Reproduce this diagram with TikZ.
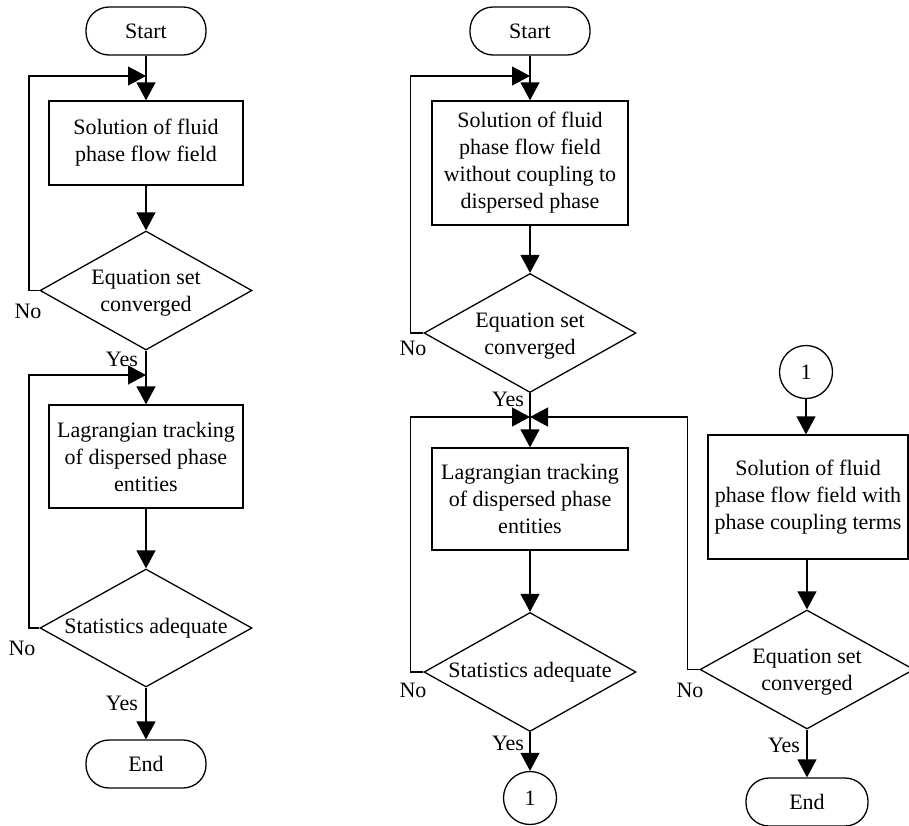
\documentclass[tikz,border=0pt]{standalone}
\usepackage{fontspec}
\setmainfont{Liberation Serif}
\usetikzlibrary{shapes.geometric,arrows.meta}
\begin{document}
\begin{tikzpicture}[x=1pt,y=-1pt,
  every node/.style={font=\fontsize{22}{27}\selectfont, line width=1.3pt},
  term/.style={draw, rectangle, rounded corners=23pt, minimum width=120pt, minimum height=48pt, inner sep=0pt},
  proc/.style={draw, rectangle, align=center, inner sep=0pt},
  dec/.style={draw, diamond, aspect=1.8, inner sep=0pt, minimum width=212pt, minimum height=119pt},
  dtext/.style={align=center, inner sep=0pt},
  conn/.style={draw, circle, minimum size=53pt, inner sep=0pt},
  lbl/.style={inner sep=0pt},
  arr/.style={line width=1.3pt, -{Triangle[length=18pt,width=19pt]}}]
\useasboundingbox (0,0) rectangle (909,825);

% ---- left flow ----
\node[term] (s1) at (146,31) {Start};
\node[proc, minimum width=194pt, minimum height=84pt] (b1) at (146,143) {Solution of fluid\\phase flow field};
\node[dec] (d1) at (146,290.5) {};
\node[dtext] (t1) at ([yshift=-3pt]d1.center) {Equation set\\converged};
\node[proc, minimum width=194pt, minimum height=103pt] (b2) at (146,456.5) {Lagrangian tracking\\of dispersed phase\\entities};
\node[dec, minimum height=118pt] (d2) at (146,628) {};
\node[dtext] (t2) at (d2.center) {Statistics adequate};
\node[term] (e1) at (146,764) {End};
\coordinate (m1) at (146,76);
\coordinate (m2) at (146,375);

\draw[arr] (s1) -- (b1);
\draw[arr] (b1) -- (d1);
\draw[arr] (d1.west) -- ++(-10.5,0) |- (m1);
\draw[arr] (d1) -- (b2);
\draw[arr] (d2.west) -- ++(-10.5,0) |- (m2);
\draw[arr] (b2) -- (d2);
\draw[arr] (d2) -- (e1);

\node[lbl] (n1) at (28,311) {No};
\node[lbl] (y1) at (122,359) {Yes};
\node[lbl] (n2) at (22,648) {No};
\node[lbl] (y2) at (122,703) {Yes};

% ---- middle flow ----
\node[term] (s2) at (530,31) {Start};
\node[proc, minimum width=196pt, minimum height=124pt] (b3) at (530,163) {Solution of fluid\\phase flow field\\without coupling to\\dispersed phase};
\node[dec] (d3) at (530,333) {};
\node[dtext] (t3) at ([yshift=-3pt]d3.center) {Equation set\\converged};
\node[proc, minimum width=196pt, minimum height=102pt] (b4) at (530,499) {Lagrangian tracking\\of dispersed phase\\entities};
\node[dec] (d4) at (530,672) {};
\node[dtext] (t4) at (d4.center) {Statistics adequate};
\node[conn] (c1) at (530,798) {1};
\coordinate (m3) at (530,76);
\coordinate (m4) at (530,417);

\draw[arr] (s2) -- (b3);
\draw[arr] (b3) -- (d3);
\draw[arr] (d3.west) -- ++(-13,0) |- (m3);
\draw[arr] (d3) -- (b4);
\draw[arr] (d4.west) -- ++(-13,0) |- (m4);
\draw[arr] (b4) -- (d4);
\draw[arr] (d4) -- (c1);

\node[lbl] (n3) at (413,348) {No};
\node[lbl] (y3) at (508,399) {Yes};
\node[lbl] (n4) at (413,690) {No};
\node[lbl] (y4) at (508,743) {Yes};

% ---- right flow ----
\node[conn] (c2) at (806,372) {1};
\node[proc, minimum width=200pt, minimum height=124pt] (b5) at (808,497) {Solution of fluid\\phase flow field with\\phase coupling terms};
\node[dec, minimum width=214pt] (d5) at (807,669.5) {};
\node[dtext] (t5) at ([yshift=-3pt]d5.center) {Equation set\\converged};
\node[term, minimum width=122pt] (e2) at (807,802) {End};

\draw[arr] (c2) -- (c2 |- b5.north);
\draw[arr] (b5.south -| d5) -- (d5);
\draw[arr] (d5.west) -- ++(-12,0) |- (m4);
\draw[arr] (d5) -- (e2);

\node[lbl] (n5) at (690,690) {No};
\node[lbl] (y5) at (784,745) {Yes};
\end{tikzpicture}
\end{document}
